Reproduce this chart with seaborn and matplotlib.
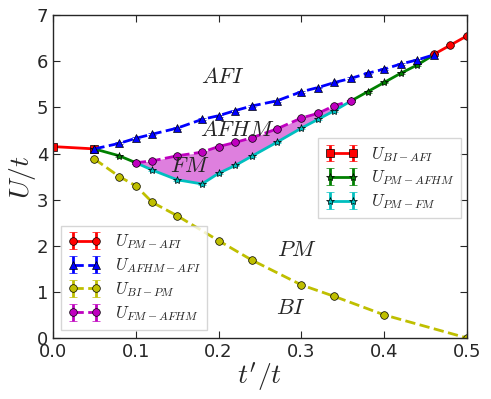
import numpy as np
import matplotlib
matplotlib.use("Agg")
import matplotlib.pyplot as plt
import seaborn as sns

# phase boundary data
x_bi_afi = [0.0, 0.05]
u_bi_afi = [4.15, 4.1]

x_pm_afi = [0.46, 0.48, 0.5]
u_pm_afi = [6.15, 6.35, 6.55]

x_afhm_afi = [0.05, 0.08, 0.1, 0.12, 0.15, 0.18, 0.2, 0.22, 0.24, 0.27,
              0.3, 0.32, 0.34, 0.36, 0.38, 0.4, 0.42, 0.44, 0.46]
u_afhm_afi = [4.1, 4.22, 4.33, 4.42, 4.55, 4.74, 4.82, 4.93, 5.03, 5.14,
              5.34, 5.43, 5.54, 5.63, 5.74, 5.83, 5.94, 6.03, 6.14]

x_pm_afhm = [0.05, 0.08, 0.1, np.nan, 0.36, 0.38, 0.4, 0.42, 0.44, 0.46]
u_pm_afhm = [4.1, 3.95, 3.8, np.nan, 5.14, 5.34, 5.54, 5.74, 5.92, 6.14]

x_fm = [0.1, 0.12, 0.15, 0.18, 0.2, 0.22, 0.24, 0.27, 0.3, 0.32, 0.34, 0.36]
u_pm_fm = [3.8, 3.64, 3.43, 3.34, 3.57, 3.74, 3.94, 4.24, 4.55, 4.74, 4.93, 5.14]
u_fm_afhm = [3.8, 3.84, 3.95, 4.03, 4.15, 4.24, 4.34, 4.53, 4.77, 4.87, 5.04, 5.14]

x_bi_pm = [0.05, 0.08, 0.1, 0.12, 0.15, 0.2, 0.24, 0.3, 0.34, 0.4, 0.5]
u_bi_pm = [3.88, 3.5, 3.3, 2.94, 2.65, 2.11, 1.69, 1.15, 0.9, 0.5, 0.0]

sns.set_style("ticks")
plt.rcParams['mathtext.fontset'] = 'cm'
plt.rcParams['font.family'] = ['DejaVu Sans']
plt.rcParams['xtick.direction'] = 'in'
plt.rcParams['ytick.direction'] = 'in'

fig = plt.figure(figsize=(4.91, 3.99), dpi=100)
ax = fig.add_axes([0.108, 0.153, 0.843, 0.809])

kw = dict(lw=2, capsize=3, mec='k', mew=0.5)

ax.fill_between(x_fm, u_pm_fm, u_fm_afhm, color='m', alpha=0.5, lw=0)

h1 = ax.errorbar(x_bi_afi, u_bi_afi, yerr=0.05, fmt='s-', color='r', ms=6, **kw)
h2 = ax.errorbar(x_pm_afhm, u_pm_afhm, yerr=0.02, fmt='*-', color='g', ms=6, **kw)
h3 = ax.errorbar(x_fm, u_pm_fm, yerr=0.02, fmt='*-', color='c', ms=6, **kw)

h4 = ax.errorbar(x_pm_afi, u_pm_afi, yerr=0.02, fmt='o-', color='r', ms=5.5, **kw)
h5 = ax.errorbar(x_afhm_afi, u_afhm_afi, yerr=0.02, fmt='^--', color='b', ms=6, **kw)
h6 = ax.errorbar(x_bi_pm, u_bi_pm, yerr=0.02, fmt='o--', color='y', ms=5.5, **kw)
h7 = ax.errorbar(x_fm, u_fm_afhm, yerr=0.02, fmt='o--', color='m', ms=5.5, **kw)

ax.set_xlim(0, 0.5)
ax.set_ylim(0, 7)
ax.tick_params(labelsize=13, top=True, right=True, length=5)
ax.set_xlabel(r"$t'/t$", fontsize=20, labelpad=0)
ax.set_ylabel(r"$U/t$", fontsize=20, labelpad=-1)
for s in ax.spines.values():
    s.set_linewidth(1.0)

ax.text(0.205, 5.66, r"$AFI$", fontsize=16, ha='center', va='center')
ax.text(0.223, 4.51, r"$AFHM$", fontsize=16, ha='center', va='center')
ax.text(0.165, 3.73, r"$FM$", fontsize=16, ha='center', va='center')
ax.text(0.295, 1.91, r"$PM$", fontsize=16, ha='center', va='center')
ax.text(0.287, 0.65, r"$BI$", fontsize=16, ha='center', va='center')

leg1 = ax.legend([h1, h2, h3],
                 [r"$U_{BI-AFI}$", r"$U_{PM-AFHM}$", r"$U_{PM-FM}$"],
                 loc='upper left', bbox_to_anchor=(0.62, 0.645), fontsize=12,
                 numpoints=2, fancybox=False, handlelength=2.0,
                 labelspacing=0.3, borderpad=0.4)
ax.add_artist(leg1)
ax.legend([h4, h5, h6, h7],
          [r"$U_{PM-AFI}$", r"$U_{AFHM-AFI}$", r"$U_{BI-PM}$", r"$U_{FM-AFHM}$"],
          loc='lower left', bbox_to_anchor=(0.0, 0.0), fontsize=12,
          numpoints=2, fancybox=False, handlelength=2.0,
          labelspacing=0.3, borderpad=0.4)

fig.savefig("out.png", dpi=100)
